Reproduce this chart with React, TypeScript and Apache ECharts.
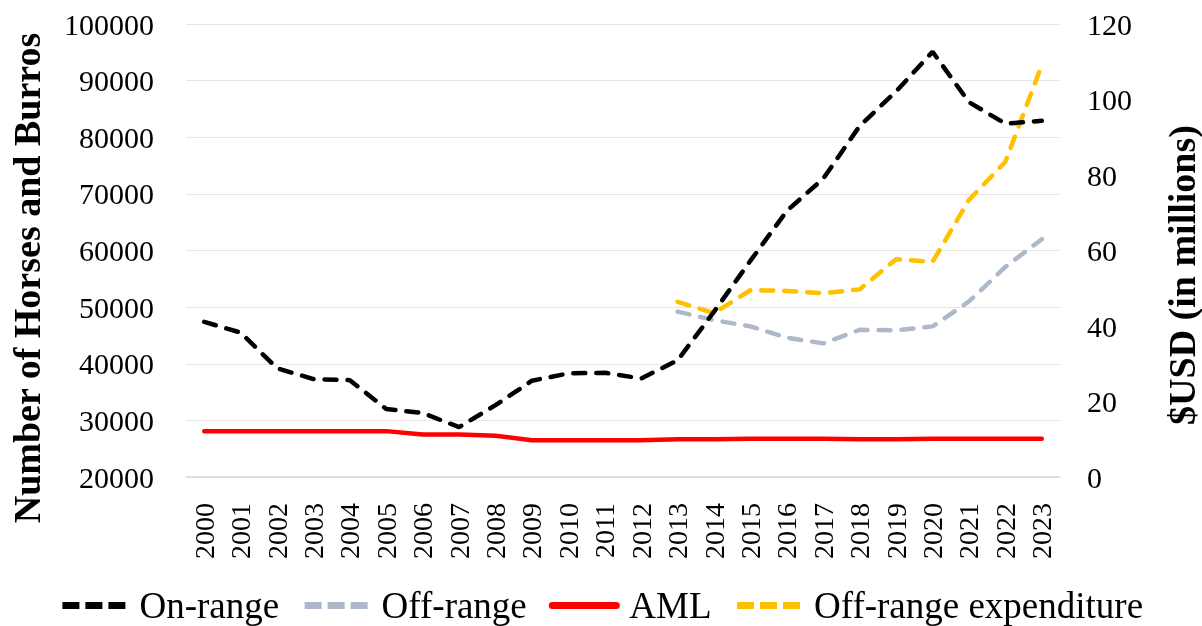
import React, { useEffect, useRef } from "react";
import * as echarts from "echarts";

const years = ["2000","2001","2002","2003","2004","2005","2006","2007","2008","2009","2010","2011","2012","2013","2014","2015","2016","2017","2018","2019","2020","2021","2022","2023"];
const onRange = [47400, 45500, 39200, 37300, 37100, 32000, 31300, 28800, 32700, 37000, 38300, 38400, 37400, 40600, 49200, 58200, 67000, 72700, 82000, 88100, 95100, 86200, 82400, 82900];
const offRange = [null, null, null, null, null, null, null, null, null, null, null, null, null, 49200, 47700, 46600, 44600, 43600, 46000, 45900, 46600, 51000, 57100, 62000];
const aml = [28100, 28100, 28100, 28100, 28100, 28100, 27500, 27500, 27300, 26500, 26500, 26500, 26500, 26650, 26650, 26750, 26750, 26750, 26650, 26650, 26750, 26750, 26750, 26750];
const offRangeExpenditure = [null, null, null, null, null, null, null, null, null, null, null, null, null, 46.4, 43.4, 49.5, 49.3, 48.7, 49.7, 57.7, 57.0, 73.4, 83.5, 109.1];
const leftTitle = "Number of Horses and Burros";
const rightTitle = "$USD (in millions)";

const FONT = "'Liberation Serif', 'Times New Roman', serif";

export default function App() {
  const ref = useRef<HTMLDivElement>(null);
  useEffect(() => {
    if (!ref.current) return;
    const chart = echarts.init(ref.current, null, { renderer: "svg" });
    const dash = { type: [12, 11] as number[], width: 4.5, cap: "round" as const };
    const legendDash = { type: [17, 6] as number[], width: 7, cap: "butt" as const };
    chart.setOption({
      animation: false,
      textStyle: { fontFamily: FONT },
      grid: { left: 186, right: 142, top: 24, bottom: 149, containLabel: false, outerBoundsMode: "none" },
      graphic: [
        {
          type: "text",
          x: 27,
          y: 278,
          rotation: Math.PI / 2,
          style: {
            text: leftTitle,
            font: `bold 38px ${FONT}`,
            fill: "#000",
            align: "center",
            verticalAlign: "middle",
          },
        },
        {
          type: "text",
          x: 1182,
          y: 275,
          rotation: Math.PI / 2,
          style: {
            text: rightTitle,
            font: `bold 38px ${FONT}`,
            fill: "#000",
            align: "center",
            verticalAlign: "middle",
          },
        },
      ],
      legend: {
        top: 582,
        left: "center",
        itemWidth: 64,
        itemHeight: 14,
        itemGap: 22,
        itemStyle: { opacity: 0 },
        textStyle: { fontFamily: FONT, fontSize: 37, color: "#000", padding: [0, 0, 0, 8] },
        data: [
          { name: "On-range", lineStyle: { ...legendDash, color: "#000000" } },
          { name: "Off-range", lineStyle: { ...legendDash, color: "#adb9ca" } },
          { name: "AML", lineStyle: { width: 7, type: "solid", color: "#ff0000" } },
          { name: "Off-range expenditure", lineStyle: { ...legendDash, color: "#ffc000" } },
        ],
      },
      xAxis: {
        type: "category",
        data: years,
        boundaryGap: true,
        axisLine: { lineStyle: { color: "#d9d9d9", width: 1.5 } },
        axisTick: { show: false },
        axisLabel: { rotate: 90, fontFamily: FONT, fontSize: 28, color: "#000", margin: 26, interval: 0 },
      },
      yAxis: [
        {
          type: "value",
          min: 20000,
          max: 100000,
          interval: 10000,
          axisLine: { show: false },
          axisTick: { show: false },
          axisLabel: { fontFamily: FONT, fontSize: 30, color: "#000", margin: 32, formatter: (v: number) => String(v) },
          splitLine: { lineStyle: { color: "#e6e6e6", width: 1 } },
        },
        {
          type: "value",
          min: 0,
          max: 120,
          interval: 20,
          axisLine: { show: false },
          axisTick: { show: false },
          axisLabel: { fontFamily: FONT, fontSize: 30, color: "#000", margin: 27, formatter: (v: number) => String(v) },
          splitLine: { show: false },
        },
      ],
      series: [
        {
          name: "On-range",
          type: "line",
          data: onRange,
          symbol: "none",
          lineStyle: { ...dash, color: "#000000" },
          itemStyle: { color: "#000000" },
          z: 4,
        },
        {
          name: "Off-range",
          type: "line",
          data: offRange,
          symbol: "none",
          lineStyle: { ...dash, color: "#adb9ca" },
          itemStyle: { color: "#adb9ca" },
          z: 2,
        },
        {
          name: "AML",
          type: "line",
          data: aml,
          symbol: "none",
          lineStyle: { width: 4.5, color: "#ff0000", cap: "round" },
          itemStyle: { color: "#ff0000" },
          z: 3,
        },
        {
          name: "Off-range expenditure",
          type: "line",
          yAxisIndex: 1,
          data: offRangeExpenditure,
          symbol: "none",
          lineStyle: { ...dash, color: "#ffc000" },
          itemStyle: { color: "#ffc000" },
          z: 3,
        },
      ],
    });
    return () => chart.dispose();
  }, []);
  return <div ref={ref} style={{ width: 1202, height: 626, position: "fixed", left: 0, top: 0 }} />;
}
